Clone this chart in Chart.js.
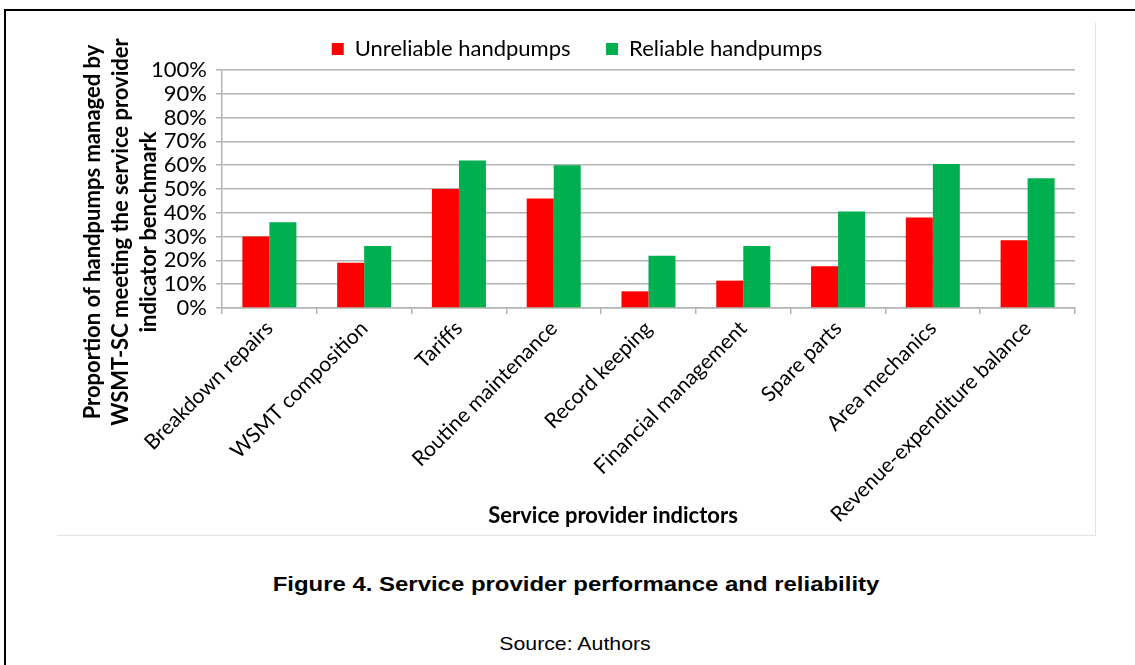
<!DOCTYPE html>
<html>
<head>
<meta charset="utf-8">
<script src="https://cdn.jsdelivr.net/npm/chart.js@4"></script>
<style>
  body { margin: 0; background: #fff; width: 1135px; height: 665px; overflow: hidden; position: relative; }
  #marco { position: absolute; left: 4px; top: 9px; width: 1200px; height: 700px; border-left: 2px solid #000; border-top: 2px solid #000; }
  #caja { position: absolute; left: 57px; top: 22px; width: 1038px; height: 513px; border-right: 1px solid #e3e3e3; border-bottom: 1px solid #e3e3e3; }
  #titulo { position: absolute; left: 0; width: 1152px; top: 572px; text-align: center; font: bold 21px "Liberation Sans", Arial, sans-serif; color: #000; transform: scaleX(1.14); transform-origin: 576px 0; }
  #fuente { position: absolute; left: 0; width: 1150px; top: 633px; text-align: center; font: 19px "Liberation Sans", Arial, sans-serif; color: #000; transform: scaleX(1.12); transform-origin: 575px 0; }
</style>
</head>
<body>
<div id="marco"></div>
<div id="caja"><canvas id="barChart" width="1038" height="513"></canvas></div>
<div id="titulo">Figure 4. Service provider performance and reliability</div>
<div id="fuente">Source: Authors</div>
<script>
// categorias (indicadores)
var indicadores = ['Breakdown repairs', 'WSMT composition', 'Tariffs', 'Routine maintenance', 'Record keeping',
  'Financial management', 'Spare parts', 'Area mechanics', 'Revenue-expenditure balance'];
// % de bombas que cumplen el indicador
var noFiables = [30, 19, 50, 46, 7, 11.5, 17.5, 38, 28.5];
var fiables = [36, 26, 62, 60, 22, 26, 40.5, 60.5, 54.5];
var ticksY = [0, 10, 20, 30, 40, 50, 60, 70, 80, 90, 100];
var tituloY = ['Proportion of handpumps managed by', 'WSMT-SC meeting the service provider', 'indicator benchmark'];
var tituloX = 'Service provider indictors';

var fuente = '"Lato", "Open Sans", sans-serif';

// titulos de ejes dibujados a mano (Excel no los centra en el area del grafico)
var titulosEjes = {
    id: 'titulosEjes',
    afterDraw: function (chart) {
        var c = chart.ctx;
        c.save();
        c.fillStyle = '#000';
        c.font = 'bold 22px ' + fuente;
        c.textAlign = 'center';
        c.textBaseline = 'middle';
        c.fillText(tituloX, 556, 494);
        c.translate(0, 210);
        c.rotate(-Math.PI / 2);
        for (var i = 0; i < tituloY.length; i++) {
            c.fillText(tituloY[i], 0, 36 + i * 28);
        }
        c.restore();
    }
};

var ctx = document.getElementById('barChart').getContext('2d');

var barChart = new Chart(ctx, {
    type: 'bar',
    data: {
        labels: indicadores,
        datasets: [
            {label: 'Unreliable handpumps', data: noFiables, backgroundColor: '#ff0000', borderWidth: 0},
            {label: 'Reliable handpumps', data: fiables, backgroundColor: '#00b050', borderWidth: 0}
        ]
    },
    plugins: [titulosEjes],
    options: {
        responsive: false,
        animation: false,
        layout: { padding: { top: 8, right: 20, left: 22, bottom: 6 } },
        datasets: { bar: { barPercentage: 1.0, categoryPercentage: 0.57 } },
        plugins: {
            legend: {
                position: 'top',
                labels: {
                    color: '#000', boxWidth: 12, boxHeight: 12, font: { family: fuente, size: 22 }, padding: 8,
                    generateLabels: function (chart) {
                        var items = Chart.defaults.plugins.legend.labels.generateLabels(chart);
                        items[0].text = items[0].text + '\u2003\u2002';
                        return items;
                    }
                }
            },
            tooltip: { enabled: false }
        },
        scales: {
            y: {
                min: 0, max: 100,
                afterBuildTicks: function (eje) { eje.ticks = ticksY.map(function (v) { return {value: v}; }); },
                afterFit: function (eje) { eje.width = 143; },
                ticks: { color: '#000', font: { family: fuente, size: 22 }, padding: 9, autoSkip: false,
                    callback: function (v) { return v + '%'; } },
                grid: { color: '#b4b4b4', lineWidth: 1.5, drawTicks: true, tickLength: 6 },
                border: { color: '#b4b4b4', width: 1.5 }
            },
            x: {
                afterFit: function (eje) { eje.height = 221; },
                ticks: { color: '#000', font: { family: fuente, size: 21 }, maxRotation: 45, minRotation: 45, padding: 2, autoSkip: false },
                grid: { display: true, offset: true, drawOnChartArea: false, color: '#b4b4b4', tickLength: 6, lineWidth: 1.5 },
                border: { color: '#b4b4b4', width: 1.5 }
            }
        }
    }
});
</script>
</body>
</html>
